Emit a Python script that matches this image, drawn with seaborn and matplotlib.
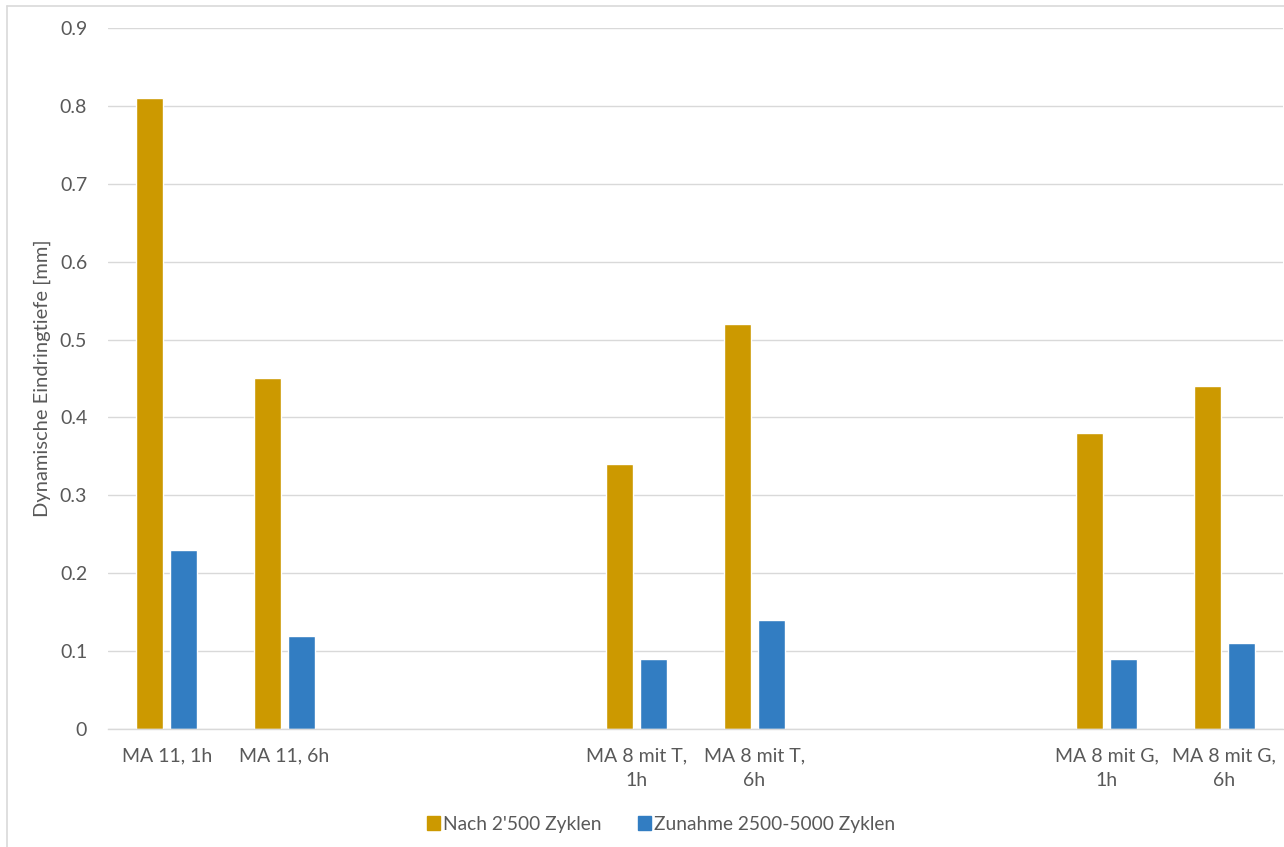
import matplotlib
matplotlib.use("Agg")
import matplotlib.pyplot as plt
import seaborn as sns
import pandas as pd
from matplotlib.lines import Line2D

# Category slots along the x axis (blank slots separate the three mixes)
slots = ["MA 11, 1h", "MA 11, 6h", "", " ",
         "MA 8 mit T,\n1h", "MA 8 mit T,\n6h", "  ", "   ",
         "MA 8 mit G,\n1h", "MA 8 mit G,\n6h"]
samples = ["MA 11, 1h", "MA 11, 6h",
           "MA 8 mit T,\n1h", "MA 8 mit T,\n6h",
           "MA 8 mit G,\n1h", "MA 8 mit G,\n6h"]
nach_2500 = [0.81, 0.45, 0.34, 0.52, 0.38, 0.44]
zunahme_2500_5000 = [0.23, 0.12, 0.09, 0.14, 0.09, 0.11]
series_names = ["Nach 2'500 Zyklen", "Zunahme 2500-5000 Zyklen"]
colors = ["#CC9900", "#327DC2"]

df = pd.DataFrame({
    "Probe": samples * 2,
    "Serie": [series_names[0]] * len(samples) + [series_names[1]] * len(samples),
    "Wert": nach_2500 + zunahme_2500_5000,
})

sns.set_theme(style="white")
plt.rcParams["font.family"] = ["Lato", "DejaVu Sans"]

fig = plt.figure(figsize=(12.84, 8.47), dpi=100)
ax = fig.add_axes([108 / 1284, 1 - 729 / 847, 1175 / 1284, (729 - 28) / 847])

sns.barplot(data=df, x="Probe", y="Wert", hue="Serie", order=slots,
            hue_order=series_names, palette=colors, width=0.58, gap=0.2,
            saturation=1, errorbar=None, ax=ax, legend=True)

ax.set_xlim(-0.5, len(slots) - 0.5)
ax.set_ylim(0, 0.9)
ax.set_yticks([i / 10 for i in range(10)])
ax.set_yticklabels(["0"] + [f"{i / 10:.1f}" for i in range(1, 10)])
ax.yaxis.grid(True, color="#D9D9D9", linewidth=1)
ax.set_axisbelow(True)
for side in ["left", "right", "top"]:
    ax.spines[side].set_visible(False)
ax.spines["bottom"].set_color("#D9D9D9")
ax.spines["bottom"].set_linewidth(1)
ax.tick_params(axis="both", length=0, labelsize=14, labelcolor="#595959")
ax.tick_params(axis="y", pad=15)
ax.tick_params(axis="x", pad=13)
for lbl in ax.get_xticklabels():
    lbl.set_linespacing(1.55)
ax.set_xlabel("")
ax.set_ylabel("Dynamische Eindringtiefe [mm]", fontsize=14.5, color="#595959")
ax.yaxis.set_label_coords(51 / 1284, 1 - 378 / 847, transform=fig.transFigure)

handles = [plt.Rectangle((0, 0), 1, 1, color=c) for c in colors]
ax.legend(handles, series_names, loc="center", bbox_to_anchor=(661 / 1284, 1 - 824 / 847),
          bbox_transform=fig.transFigure, ncol=2, frameon=False, fontsize=13.8,
          handlelength=0.7, handleheight=0.7, handletextpad=0.15,
          columnspacing=1.9, labelcolor="#595959")

# Thin chart border along the left and top edges
fig.add_artist(Line2D([7 / 1284, 7 / 1284], [0, 1 - 6 / 847], transform=fig.transFigure,
                      color="#D9D9D9", linewidth=1.2))
fig.add_artist(Line2D([7 / 1284, 1], [1 - 6 / 847, 1 - 6 / 847], transform=fig.transFigure,
                      color="#D9D9D9", linewidth=1.2))

fig.savefig("out.png", dpi=100, facecolor="white")
